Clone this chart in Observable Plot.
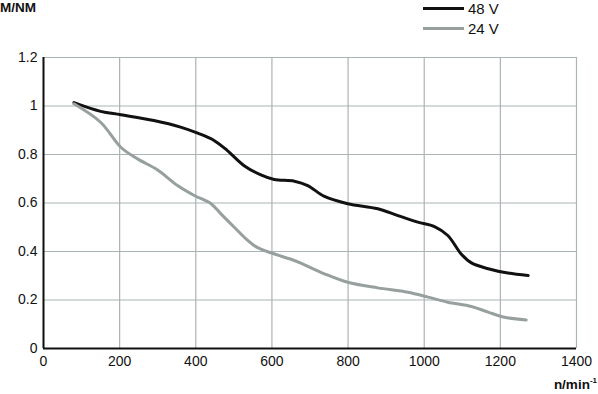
<!DOCTYPE html>
<html><head><meta charset="utf-8">
<script src="https://cdn.jsdelivr.net/npm/d3@7"></script>
<script src="https://cdn.jsdelivr.net/npm/@observablehq/plot@0.6"></script>
<style>
body{margin:0;background:#fff;font-family:"Liberation Sans",Arial,sans-serif;}
#wrap{position:relative;width:598px;height:394px;}
.lbl{position:absolute;font-weight:bold;font-size:13.5px;color:#111;line-height:16px;}
#legend{position:absolute;left:423px;top:-2px;font-size:15px;color:#111;}
.li{display:flex;align-items:center;height:20px;}
.sw{width:41px;height:3px;margin-right:4px;}
</style></head><body>
<div id="wrap">
<div class="lbl" style="left:0;top:0px">M/NM</div>
<div class="lbl" style="right:1px;top:373px">n/min<sup style="font-size:8px">-1</sup></div>
<div id="legend"></div>
</div>
<script>
const seriesNames = ["48 V", "24 V"];
const seriesColors = ["#111111", "#979f9f"];
const rpm48 = [80, 150, 203, 290, 360, 405, 448, 483, 527, 571, 606, 659, 694, 738, 799, 878, 931, 983, 1027, 1062, 1097, 1124, 1168, 1220, 1273];
const torque48 = [1.014, 0.978, 0.964, 0.940, 0.913, 0.888, 0.858, 0.816, 0.754, 0.716, 0.697, 0.690, 0.672, 0.627, 0.597, 0.576, 0.548, 0.521, 0.503, 0.466, 0.390, 0.353, 0.329, 0.311, 0.301];
const rpm24 = [80, 150, 203, 247, 299, 352, 396, 440, 466, 501, 532, 560, 600, 650, 676, 738, 799, 878, 957, 1010, 1062, 1124, 1168, 1211, 1268];
const torque24 = [1.009, 0.933, 0.830, 0.782, 0.737, 0.672, 0.631, 0.597, 0.555, 0.500, 0.452, 0.418, 0.393, 0.368, 0.352, 0.308, 0.273, 0.250, 0.232, 0.212, 0.191, 0.173, 0.150, 0.129, 0.118];
const xTicks = [0, 200, 400, 600, 800, 1000, 1200, 1400];
const yTicks = [0, 0.2, 0.4, 0.6, 0.8, 1, 1.2];

const data = [
  ...rpm48.map((x, i) => ({x, y: torque48[i], s: seriesNames[0]})),
  ...rpm24.map((x, i) => ({x, y: torque24[i], s: seriesNames[1]}))
];

const chart = Plot.plot({
  width: 598, height: 394,
  marginLeft: 43, marginRight: 22, marginTop: 57, marginBottom: 46,
  style: {fontFamily: '"Liberation Sans", Arial, sans-serif', fontSize: "14px", color: "#111", background: "transparent"},
  x: {domain: [0, 1400], ticks: xTicks, tickFormat: d3.format("d"), tickSize: 0, tickPadding: 8, label: null},
  y: {domain: [0, 1.2], ticks: yTicks, tickFormat: d => String(+d.toFixed(1)), tickSize: 0, tickPadding: 6, label: null},
  color: {domain: seriesNames, range: seriesColors},
  marks: [
    Plot.gridX(xTicks, {stroke: "#aab4b4", strokeOpacity: 1, strokeWidth: 1.2}),
    Plot.gridY(yTicks, {stroke: "#aab4b4", strokeOpacity: 1, strokeWidth: 1.2}),
    Plot.line(data, {x: "x", y: "y", z: "s", stroke: "s", strokeWidth: 3, curve: "catmull-rom"}),
    Plot.ruleX([0], {stroke: "#111", strokeWidth: 2}),
    Plot.ruleY([0], {stroke: "#111", strokeWidth: 2})
  ]
});
const wrap = document.getElementById("wrap");
wrap.insertBefore(chart, wrap.firstChild);
chart.style.position = "absolute"; chart.style.left = "0"; chart.style.top = "0";

const leg = document.getElementById("legend");
seriesNames.forEach((n, i) => {
  const d = document.createElement("div"); d.className = "li";
  d.innerHTML = `<span class="sw" style="background:${seriesColors[i]}"></span><span>${n}</span>`;
  leg.appendChild(d);
});
</script>
</body></html>
